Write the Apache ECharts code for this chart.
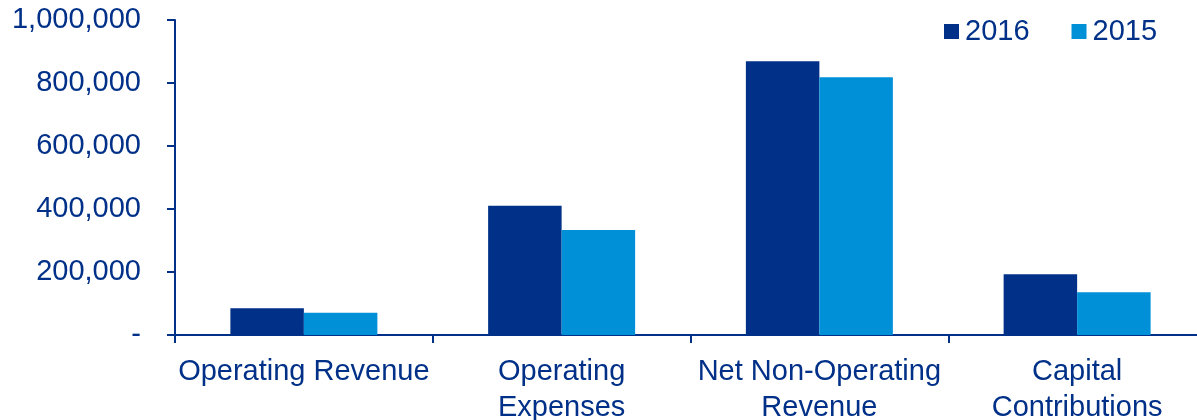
<!DOCTYPE html>
<html>
<head>
<meta charset="utf-8">
<script src="https://cdn.jsdelivr.net/npm/echarts@6/dist/echarts.min.js"></script>
<style>
html,body{margin:0;padding:0;background:#fff;}
#chart{width:1197px;height:420px;}
</style>
</head>
<body>
<div id="chart"></div>
<script>
const categories = ["Operating Revenue", "Operating\nExpenses", "Net Non-Operating\nRevenue", "Capital\nContributions"];
const seriesNames = ["2016", "2015"];
const values2016 = [84700, 410000, 869000, 192500];
const values2015 = [70700, 333000, 818000, 135400];

const textColor = "#003087";
const darkBlue = "#003087";
const lightBlue = "#0090D8";
const fontFamily = "'Liberation Sans', Arial, sans-serif";

const chart = echarts.init(document.getElementById('chart'), null, {renderer: 'canvas'});
chart.setOption({
  animation: false,
  textStyle: {fontFamily: fontFamily},
  legend: {
    data: seriesNames,
    left: 939,
    top: 12,
    icon: 'rect',
    itemWidth: 15,
    itemHeight: 15,
    itemGap: 42,
    textStyle: {color: textColor, fontSize: 29, fontFamily: fontFamily, padding: [0,0,0,1]}
  },
  grid: {left: 175, top: 20, width: 1031, height: 315, containLabel: false, outerBoundsMode: 'none'},
  xAxis: {
    type: 'category',
    data: categories,
    axisLine: {lineStyle: {color: darkBlue, width: 2}},
    axisTick: {show: true, length: 8, alignWithLabel: false, lineStyle: {color: darkBlue, width: 2}},
    axisLabel: {color: textColor, fontSize: 29, fontFamily: fontFamily, interval: 0, margin: 19, lineHeight: 36}
  },
  yAxis: {
    type: 'value',
    min: 0,
    max: 1000000,
    interval: 200000,
    axisLine: {show: true, lineStyle: {color: darkBlue, width: 2}},
    axisTick: {show: true, length: 8, lineStyle: {color: darkBlue, width: 2}},
    splitLine: {show: false},
    axisLabel: {
      color: textColor, fontSize: 29, fontFamily: fontFamily, margin: 34,
      formatter: function (v) { return v === 0 ? '-' : v.toLocaleString('en-US'); }
    }
  },
  series: [
    {name: seriesNames[0], type: 'bar', data: values2016, barWidth: 73.5, barGap: '0%', itemStyle: {color: darkBlue}},
    {name: seriesNames[1], type: 'bar', data: values2015, barWidth: 73.5, barGap: '0%', itemStyle: {color: lightBlue}}
  ]
});
</script>
</body>
</html>
